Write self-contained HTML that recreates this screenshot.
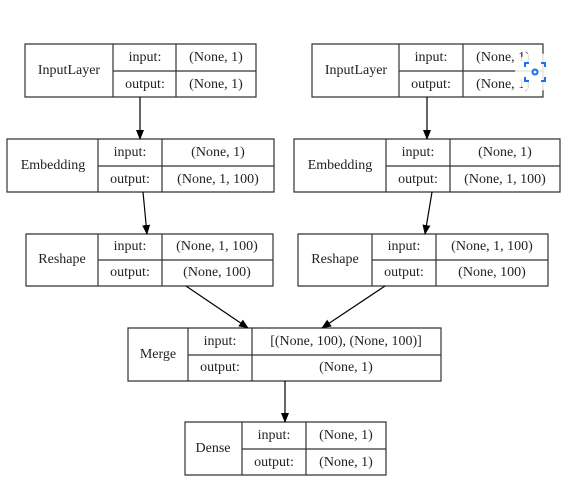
<!DOCTYPE html>
<html><head><style>body{margin:0;background:#fff;position:relative;width:586px;height:499px;overflow:hidden}svg{display:block;position:absolute;left:0;top:0}
.t{position:absolute;transform:translate(-50%,-50%);white-space:nowrap;font-family:"Liberation Serif","DejaVu Serif","Times New Roman",serif;font-size:14px;color:#222;line-height:16px}</style></head><body>
<svg width="586" height="499" xmlns="http://www.w3.org/2000/svg">
<defs><marker id="a" markerWidth="10" markerHeight="10" refX="9" refY="5" orient="auto" markerUnits="userSpaceOnUse"><path d="M0,1 L10,5 L0,9 z" fill="#000"/></marker></defs>
<g fill="none" stroke="#333" stroke-width="1.2">
<path d="M25,44h231v53h-231z M113,44v53 M176,44v53 M113,71h143"/>
<path d="M312,44h231v53h-231z M399,44v53 M463,44v53 M399,71h144"/>
<path d="M7,139h267v53h-267z M98,139v53 M162,139v53 M98,166h176"/>
<path d="M294,139h266v53h-266z M386,139v53 M450,139v53 M386,166h174"/>
<path d="M26,234h247v52h-247z M98,234v52 M162,234v52 M98,260h175"/>
<path d="M298,234h250v52h-250z M372,234v52 M436,234v52 M372,260h176"/>
<path d="M128,328h313v53h-313z M188,328v53 M252,328v53 M188,355h253"/>
<path d="M185,422h201v53h-201z M242,422v53 M306,422v53 M242,449h144"/>
</g>
<g stroke="#000" stroke-width="1.2" marker-end="url(#a)">
<line x1="140" y1="97" x2="140" y2="139"/>
<line x1="427" y1="97" x2="427" y2="139"/>
<line x1="143" y1="192" x2="147" y2="234"/>
<line x1="432" y1="192" x2="425" y2="234"/>
<line x1="186" y1="286" x2="248" y2="328"/>
<line x1="385" y1="286" x2="322" y2="328"/>
<line x1="285" y1="381" x2="285" y2="422"/>
</g>
</svg>
<div class="t" style="left:69px;top:71px">InputLayer</div><div class="t" style="left:145px;top:58px">input:</div><div class="t" style="left:145px;top:85px">output:</div><div class="t" style="left:216px;top:58px">(None, 1)</div><div class="t" style="left:216px;top:85px">(None, 1)</div>
<div class="t" style="left:356px;top:71px">InputLayer</div><div class="t" style="left:431px;top:58px">input:</div><div class="t" style="left:431px;top:85px">output:</div><div class="t" style="left:503px;top:58px">(None, 1)</div><div class="t" style="left:503px;top:85px">(None, 1)</div>
<div class="t" style="left:53px;top:166px">Embedding</div><div class="t" style="left:130px;top:153px">input:</div><div class="t" style="left:130px;top:180px">output:</div><div class="t" style="left:218px;top:153px">(None, 1)</div><div class="t" style="left:218px;top:180px">(None, 1, 100)</div>
<div class="t" style="left:340px;top:166px">Embedding</div><div class="t" style="left:418px;top:153px">input:</div><div class="t" style="left:418px;top:180px">output:</div><div class="t" style="left:505px;top:153px">(None, 1)</div><div class="t" style="left:505px;top:180px">(None, 1, 100)</div>
<div class="t" style="left:62px;top:260px">Reshape</div><div class="t" style="left:130px;top:247px">input:</div><div class="t" style="left:130px;top:273px">output:</div><div class="t" style="left:217px;top:247px">(None, 1, 100)</div><div class="t" style="left:217px;top:273px">(None, 100)</div>
<div class="t" style="left:335px;top:260px">Reshape</div><div class="t" style="left:404px;top:247px">input:</div><div class="t" style="left:404px;top:273px">output:</div><div class="t" style="left:492px;top:247px">(None, 1, 100)</div><div class="t" style="left:492px;top:273px">(None, 100)</div>
<div class="t" style="left:158px;top:355px">Merge</div><div class="t" style="left:220px;top:342px">input:</div><div class="t" style="left:220px;top:368px">output:</div><div class="t" style="left:346px;top:342px">[(None, 100), (None, 100)]</div><div class="t" style="left:346px;top:368px">(None, 1)</div>
<div class="t" style="left:213px;top:449px">Dense</div><div class="t" style="left:274px;top:436px">input:</div><div class="t" style="left:274px;top:463px">output:</div><div class="t" style="left:346px;top:436px">(None, 1)</div><div class="t" style="left:346px;top:463px">(None, 1)</div>
<svg width="586" height="499" xmlns="http://www.w3.org/2000/svg">
<circle cx="535" cy="72" r="20" fill="#fff" fill-opacity="0.85"/>
<g fill="none" stroke="#1a73e8" stroke-width="2"><path d="M525,67v-4h4 M541,63h4v4 M545,77v4h-4 M529,81h-4v-4"/><circle cx="535" cy="72" r="2.5"/></g>
</svg>
</body></html>
